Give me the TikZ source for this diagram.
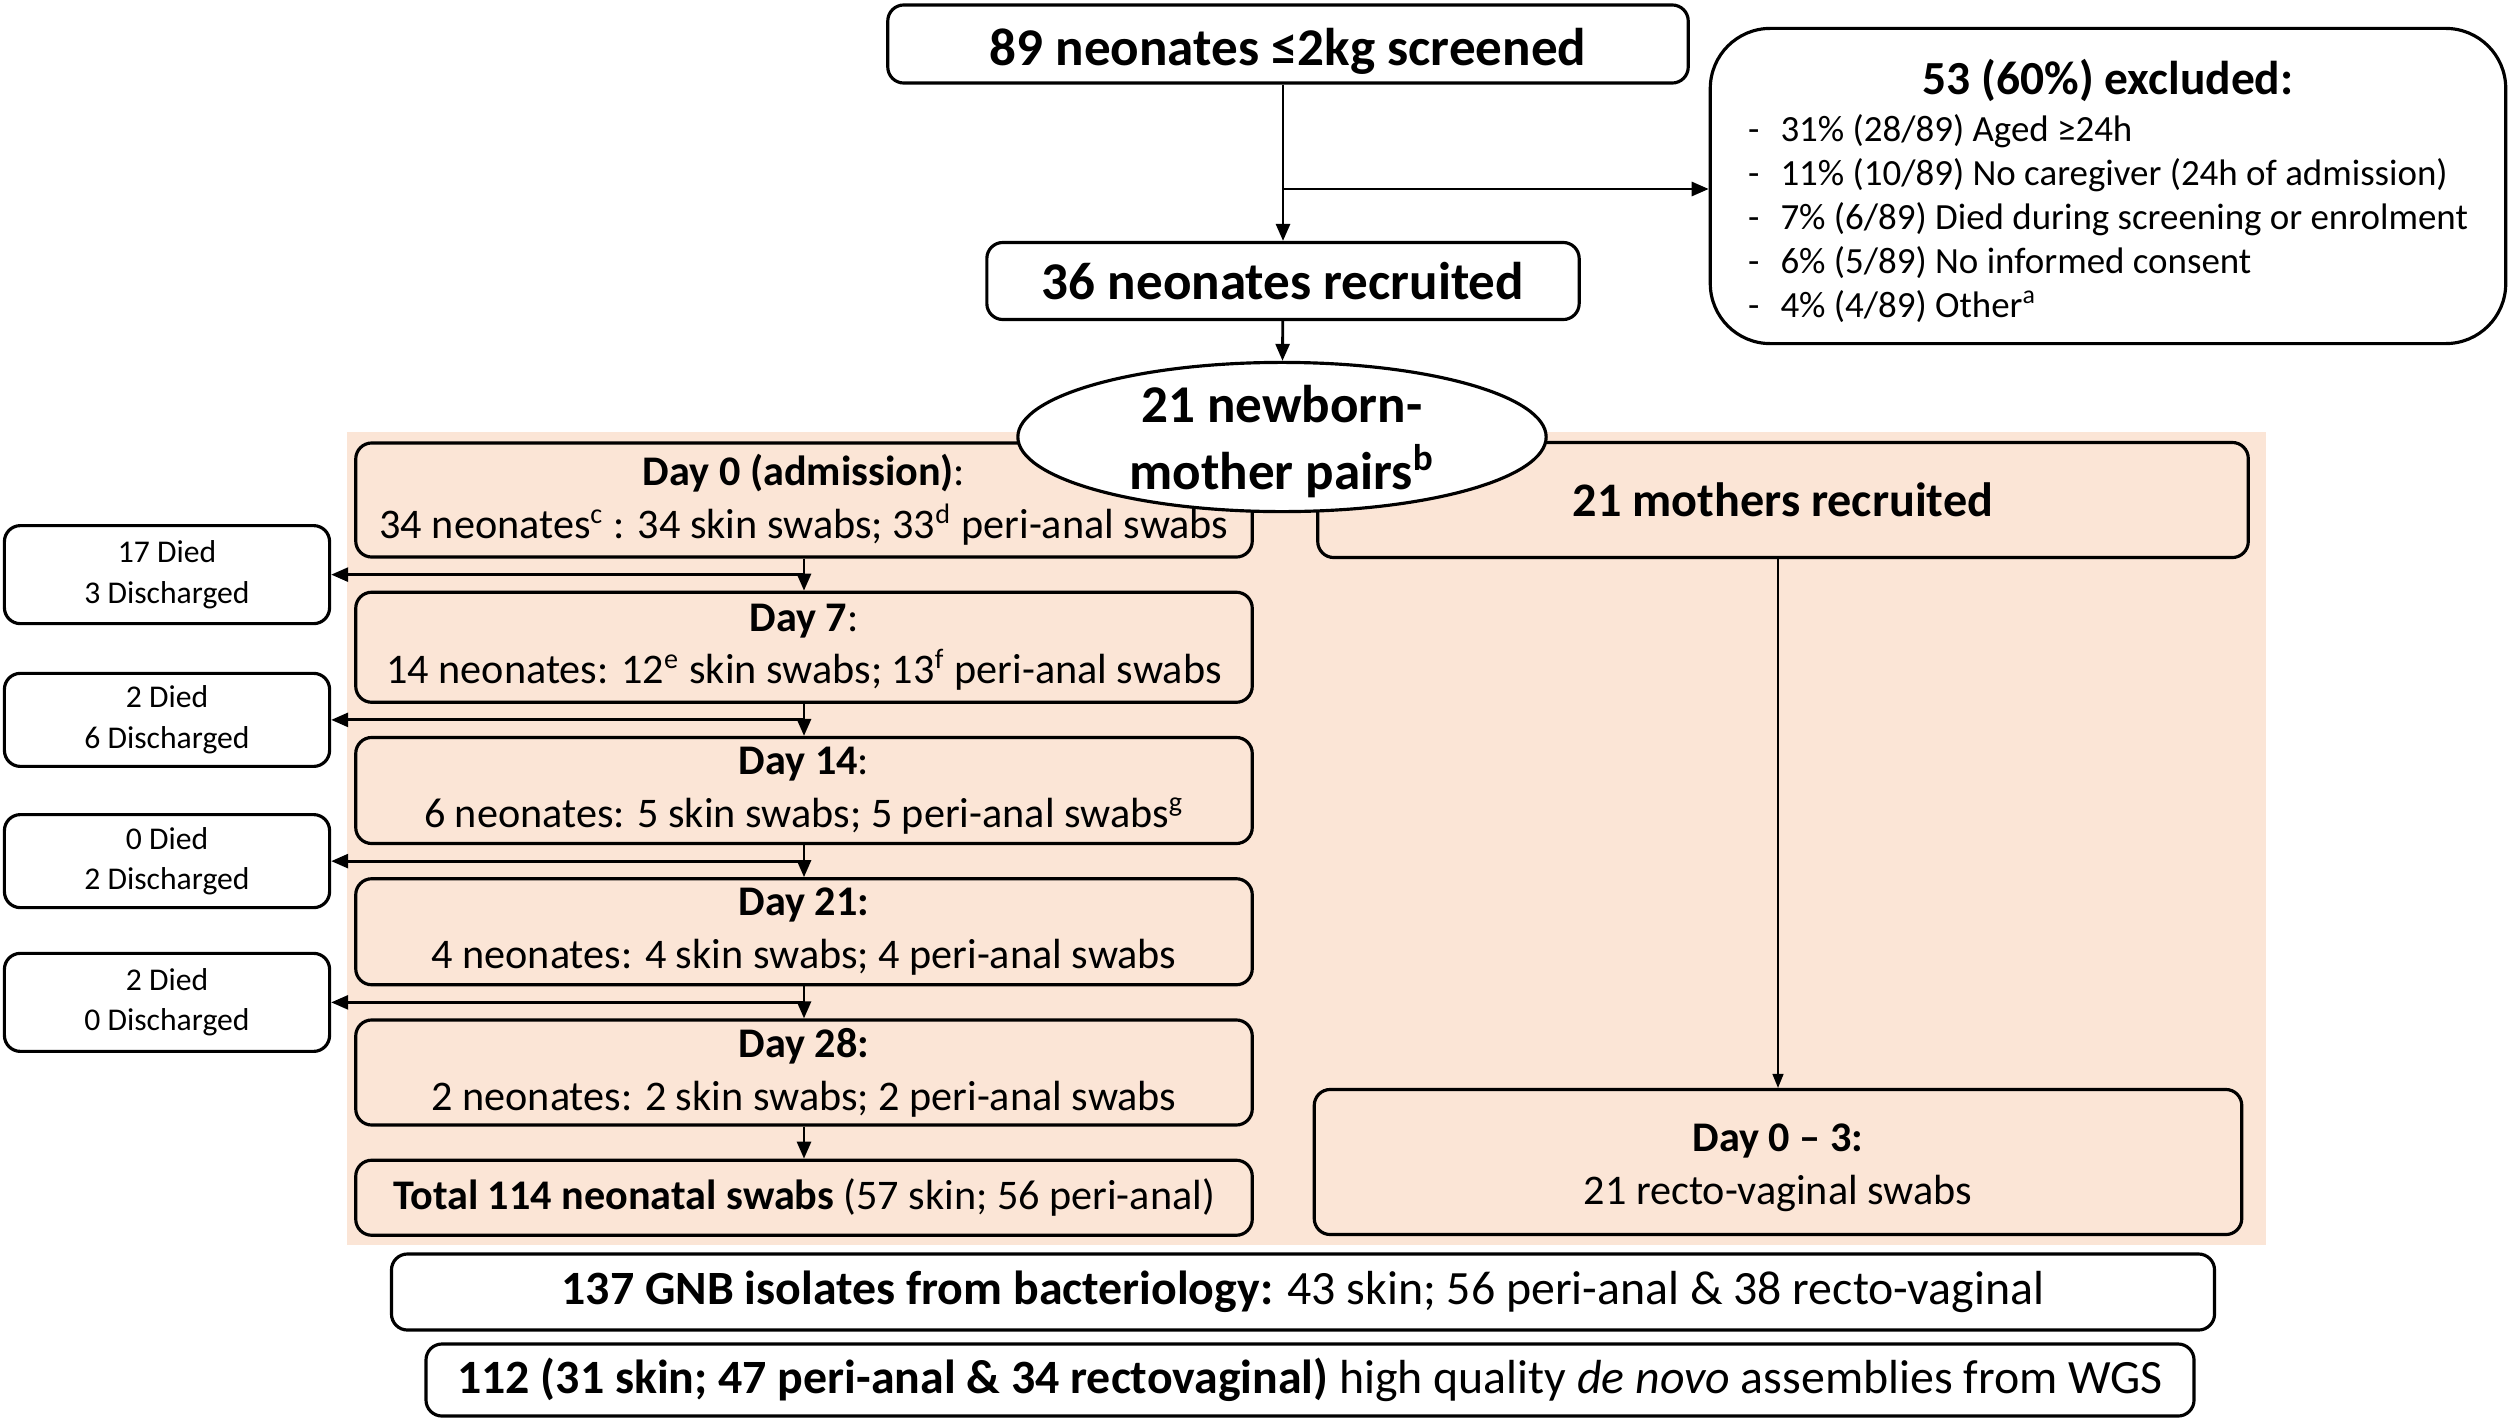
\documentclass[tikz,border=0pt]{standalone}
\usepackage{fontspec}
\setmainfont{Carlito}
\usetikzlibrary{positioning, shapes.geometric, arrows.meta, calc}
\definecolor{peach}{HTML}{FBE5D6}
\tikzset{
    >={Triangle[length=1.7mm, width=1.4mm]}, % filled arrow heads
    box/.style={draw, rounded corners=1.6mm, line width=0.9pt, align=center, inner sep=2pt}, % every box
    daybox/.style={box, fill=peach, minimum width=8.96cm, font=\fontsize{12}{15}\selectfont}, % neonatal follow-up boxes
    outbox/.style={box, fill=white, minimum width=3.25cm, font=\fontsize{9}{11.5}\selectfont}, % died / discharged boxes
    node distance=0.32cm, % gap between the day boxes
}

\begin{document}
\begin{tikzpicture}[
        x=0.01cm, y=-0.01cm,
        titlebox/.style={box, fill=white, font=\fontsize{15.1}{18}\selectfont\bfseries},
        arr/.style={->, line width=0.8pt},
    ]
    \useasboundingbox (0,0) rectangle (2509,1418);
    \fill[peach] (347,432) rectangle (2266,1245);

    \node[titlebox, minimum width=8cm, minimum height=0.78cm] (screened) at (1288,44) {\raisebox{-2pt}[\height][\depth]{89 neonates ≤2kg screened}};
    \node[box, rounded corners=6mm, fill=white, minimum width=7.95cm, minimum height=3.15cm,
        font=\fontsize{10.5}{12.5}\selectfont] (excluded) at (2108,186) {\raisebox{-2.5pt}[\height][\depth]{%
        \begin{tabular}{@{}l@{}}
            \multicolumn{1}{c}{\fontsize{13.5}{18}\selectfont\bfseries 53 (60\%) excluded:}\\[1pt]
            -\hspace{6pt}31\% (28/89) Aged ≥24h\\
            -\hspace{6pt}11\% (10/89) No caregiver (24h of admission)\\
            -\hspace{6pt}7\% (6/89) Died during screening or enrolment\\
            -\hspace{6pt}6\% (5/89) No informed consent\\
            -\hspace{6pt}4\% (4/89) Other\textsuperscript{a}
        \end{tabular}}};
    \node[titlebox, minimum width=5.92cm, minimum height=0.77cm] (recruited) at (1283,281) {36 neonates recruited};

    % neonates
    \node[daybox, minimum height=1.14cm] (d0) at (804,500) {\textbf{Day 0 (admission)}:\\34 neonates\textsuperscript{c} : 34 skin swabs; 33\textsuperscript{d} peri-anal swabs};
    \node[daybox, minimum height=1.1cm, below=of d0] (d7) {\textbf{Day 7}:\\14 neonates: 12\textsuperscript{e} skin swabs; 13\textsuperscript{f} peri-anal swabs};
    \node[daybox, minimum height=1.06cm, below=of d7] (d14) {\textbf{Day 14}:\\6 neonates: 5 skin swabs; 5 peri-anal swabs\textsuperscript{g}};
    \node[daybox, minimum height=1.06cm, below=of d14] (d21) {\textbf{Day 21:}\\4 neonates: 4 skin swabs; 4 peri-anal swabs};
    \node[daybox, minimum height=1.05cm, below=of d21] (d28) {\textbf{Day 28:}\\2 neonates: 2 skin swabs; 2 peri-anal swabs};
    \node[daybox, minimum height=0.75cm, below=of d28] (total) {\textbf{Total 114 neonatal swabs} (57 skin; 56 peri-anal)};

    \coordinate (m1) at ($(d0.south)!0.5!(d7.north)$);
    \coordinate (m2) at ($(d7.south)!0.5!(d14.north)$);
    \coordinate (m3) at ($(d14.south)!0.5!(d21.north)$);
    \coordinate (m4) at ($(d21.south)!0.5!(d28.north)$);
    \node[outbox, minimum height=0.98cm] (o1) at (167,0 |- m1) {17 Died\\3 Discharged};
    \node[outbox, minimum height=0.93cm] (o2) at (167,0 |- m2) {2 Died\\6 Discharged};
    \node[outbox, minimum height=0.93cm] (o3) at (167,0 |- m3) {0 Died\\2 Discharged};
    \node[outbox, minimum height=0.98cm] (o4) at (167,0 |- m4) {2 Died\\0 Discharged};

    % mothers
    \node[box, fill=peach, minimum width=9.3cm, minimum height=1.15cm, font=\fontsize{13.7}{16}\selectfont\bfseries] (mothers) at (1783,500) {21 mothers recruited};
    \node[box, fill=peach, minimum width=9.27cm, minimum height=1.45cm, font=\fontsize{12}{15}\selectfont] (d03) at (1778,1162) {\raisebox{-1.5pt}[\height][\depth]{\begin{tabular}{@{}c@{}}\textbf{Day 0 – 3:}\\21 recto-vaginal swabs\end{tabular}}};

    \node[ellipse, draw, fill=white, line width=0.9pt, minimum width=5.28cm, minimum height=1.44cm, inner sep=-4pt,
        font=\fontsize{15.1}{19}\selectfont\bfseries] (pairs) at (1282,437) {\raisebox{-1.5pt}[\height][\depth]{\begin{tabular}{@{}c@{}}21 newborn-\\mother pairs\textsuperscript{b}\end{tabular}}};

    % isolates
    \node[box, fill=white, minimum width=18.22cm, minimum height=0.76cm, font=\fontsize{13.6}{16}\selectfont] (gnb) at (1303,1292)
        {\textbf{137 GNB isolates from bacteriology:} 43 skin; 56 peri-anal \& 38 recto-vaginal};
    \node[box, fill=white, minimum width=17.67cm, minimum height=0.72cm, font=\fontsize{13.6}{16}\selectfont] (wgs) at (1310,1380)
        {\textbf{112 (31 skin; 47 peri-anal \& 34 rectovaginal)} high quality \textit{de novo} assemblies from WGS};

    \coordinate (split) at (recruited.north |- 0,189);
    \draw[arr] (recruited.north |- screened.south) -- (recruited.north);
    \draw[arr] (split) -- (split -| excluded.west);
    \draw[arr] (recruited) -- (pairs);

    \draw[arr] (d0) -- (d7);
    \draw[arr] (d7) -- (d14);
    \draw[arr] (d14) -- (d21);
    \draw[arr] (d21) -- (d28);
    \draw[arr] (d28) -- (total);
    \draw[arr] (m1) -- (o1);
    \draw[arr] (m2) -- (o2);
    \draw[arr] (m3) -- (o3);
    \draw[arr] (m4) -- (o4);
    \draw[->, >={Triangle[length=1.4mm, width=1.1mm]}, line width=0.4pt] (d03.north |- mothers.south) -- (d03.north);
\end{tikzpicture}
\end{document}
